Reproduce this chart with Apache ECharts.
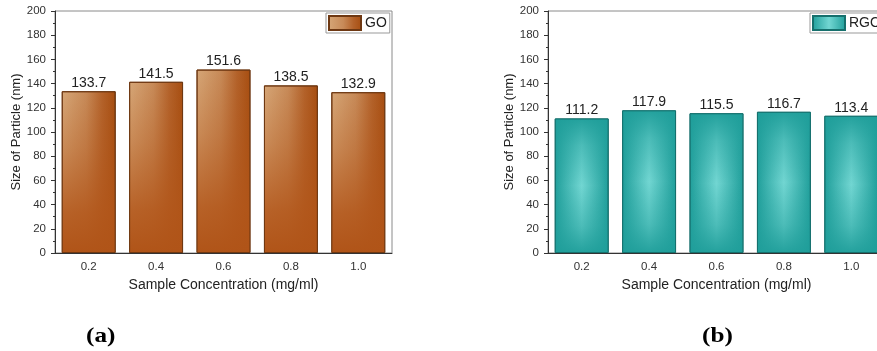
<!DOCTYPE html>
<html>
<head>
<meta charset="utf-8">
<script src="https://cdn.jsdelivr.net/npm/echarts@6/dist/echarts.min.js"></script>
<style>
html,body{margin:0;padding:0;background:#fff;overflow:hidden;width:877px;height:351px;}
#c{width:886px;height:351px;}
</style>
</head>
<body>
<div id="c"></div>
<script>
const categories = ['0.2', '0.4', '0.6', '0.8', '1.0'];
const goValues = [133.7, 141.5, 151.6, 138.5, 132.9];
const rgoValues = [111.2, 117.9, 115.5, 116.7, 113.4];
const yTicks = [0, 20, 40, 60, 80, 100, 120, 140, 160, 180, 200];
const panelLabels = ['(a)', '(b)'];

const FONT = 'Liberation Sans';

const goFill = {type:'linear', x:0, y:0, x2:1, y2:0, colorStops:[
  {offset:0, color:'#d6a778'}, {offset:0.45, color:'#c78a58'}, {offset:0.75, color:'#b3622a'}, {offset:1, color:'#a64d10'}]};
const goShade = {type:'linear', x:0, y:0, x2:0, y2:1, colorStops:[
  {offset:0, color:'rgba(178,86,26,0)'}, {offset:0.35, color:'rgba(178,86,26,0.35)'}, {offset:0.75, color:'rgba(178,86,26,0.85)'}, {offset:1, color:'rgba(176,84,24,1)'}]};
const rgoFill = {type:'linear', x:0, y:0, x2:1, y2:0, colorStops:[
  {offset:0, color:'#1f9e9a'}, {offset:0.5, color:'#72d6d2'}, {offset:1, color:'#1f9e9a'}]};
const rgoShade = {type:'linear', x:0, y:0, x2:0, y2:1, colorStops:[
  {offset:0, color:'rgba(31,158,154,0.95)'}, {offset:0.2, color:'rgba(31,158,154,0.45)'}, {offset:0.5, color:'rgba(31,158,154,0)'}, {offset:0.8, color:'rgba(31,158,154,0.45)'}, {offset:1, color:'rgba(31,158,154,0.95)'}]};

function xAxisCfg(gi){
  return {
    type:'category', gridIndex:gi, data:categories,
    name:'Sample Concentration (mg/ml)', nameLocation:'middle', nameGap:24,
    nameTextStyle:{fontFamily:FONT, fontSize:14, color:'#222'},
    axisLine:{lineStyle:{color:'#333', width:1}},
    axisTick:{alignWithLabel:true, length:4, lineStyle:{color:'#333'}},
    axisLabel:{fontFamily:FONT, fontSize:11.5, color:'#333', margin:8}
  };
}
function yAxisCfg(gi){
  return {
    type:'value', gridIndex:gi, min:yTicks[0], max:yTicks[yTicks.length-1], interval:yTicks[1]-yTicks[0],
    name:'Size of Particle (nm)', nameLocation:'middle', nameGap:32,
    nameTextStyle:{fontFamily:FONT, fontSize:13, color:'#222'},
    axisLine:{show:true, lineStyle:{color:'#333', width:1}},
    axisTick:{show:true, length:4, lineStyle:{color:'#333'}},
    minorTick:{show:true, splitNumber:2, length:2, lineStyle:{color:'#333'}},
    splitLine:{show:false},
    axisLabel:{fontFamily:FONT, fontSize:11.5, color:'#333', margin:9}
  };
}
function mainSeries(name, gi, values, fill, border){
  return {
    name:name, type:'bar', xAxisIndex:gi, yAxisIndex:gi, data:values,
    barCategoryGap:'20%', barGap:'-100%',
    itemStyle:{color:fill, borderColor:border, borderWidth:1},
    label:{show:true, position:'top', distance:1, fontFamily:FONT, fontSize:14, color:'#222', formatter:p=>p.value.toFixed(1)},
    z:2
  };
}
function shadeSeries(gi, values, fill, border){
  return {
    type:'bar', xAxisIndex:gi, yAxisIndex:gi, data:values, silent:true,
    barCategoryGap:'20%', barGap:'-100%',
    itemStyle:{color:fill, borderColor:border, borderWidth:1},
    label:{show:false}, z:3
  };
}

const chart = echarts.init(document.getElementById('c'), null, {renderer:'canvas', width:886, height:351});
chart.setOption({
  backgroundColor:'#fff',
  animation:false,
  grid:[
    {left:55, top:11, width:337, height:242, show:true, borderColor:'#8a8a8a', borderWidth:1, backgroundColor:'transparent'},
    {left:548, top:11, width:337, height:242, show:true, borderColor:'#8a8a8a', borderWidth:1, backgroundColor:'transparent'}
  ],
  legend:[
    {data:['GO'], left:326, top:13, padding:[2,3,2,2], itemWidth:32, itemHeight:14, itemGap:4, icon:'rect',
     borderColor:'#999', borderWidth:1, backgroundColor:'#fff',
     textStyle:{fontFamily:FONT, fontSize:14, color:'#222', padding:[0,0,0,-1]}},
    {data:['RGO'], left:810, top:13, padding:[2,3,2,2], itemWidth:32, itemHeight:14, itemGap:4, icon:'rect',
     borderColor:'#999', borderWidth:1, backgroundColor:'#fff',
     textStyle:{fontFamily:FONT, fontSize:14, color:'#222', padding:[0,0,0,-1]}}
  ],
  xAxis:[xAxisCfg(0), xAxisCfg(1)],
  yAxis:[yAxisCfg(0), yAxisCfg(1)],
  series:[
    mainSeries('GO', 0, goValues, goFill, '#6e3812'),
    shadeSeries(0, goValues, goShade, '#6e3812'),
    mainSeries('RGO', 1, rgoValues, rgoFill, '#16706d'),
    shadeSeries(1, rgoValues, rgoShade, '#16706d')
  ],
  graphic:[
    {type:'text', x:86, y:326, scaleX:1.2, style:{text:panelLabels[0], font:'bold 21px "Liberation Serif"', fill:'#000'}},
    {type:'text', x:702, y:326, scaleX:1.2, style:{text:panelLabels[1], font:'bold 21px "Liberation Serif"', fill:'#000'}}
  ]
});
</script>
</body>
</html>
